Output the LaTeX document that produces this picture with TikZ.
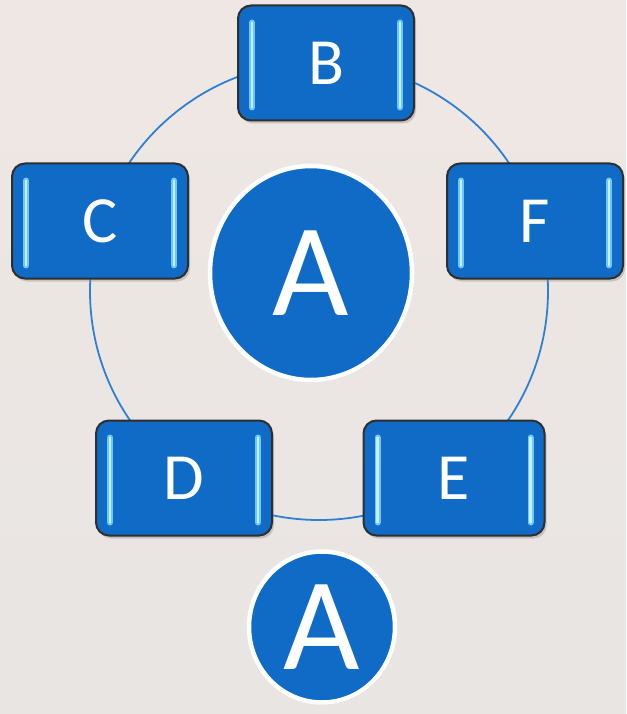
\documentclass[tikz,border=0pt]{standalone}
\usepackage{fontspec}
\setmainfont{Carlito}
\usetikzlibrary{shadows,shapes.geometric}
\definecolor{bgtop}{HTML}{EFE7E4}
\definecolor{bgbot}{HTML}{E8E5E2}
\definecolor{boxblue}{HTML}{0F6BC6}
\definecolor{ringblue}{HTML}{2F80D2}
\definecolor{hl}{HTML}{6CC8FA}
\definecolor{hlcore}{HTML}{C8F0FF}
\definecolor{edgegray}{HTML}{2E2E2E}
\tikzset{
  stripe/.style={line cap=round},
  stepbox/.style={rectangle, rounded corners=13pt, draw=edgegray, line width=2pt,
    fill=boxblue, minimum width=176pt, minimum height=115pt, text=white,
    font=\fontsize{66}{66}\selectfont, inner sep=0pt,
    drop shadow={shadow xshift=2pt, shadow yshift=-3pt, opacity=0.35},
    path picture={
      \foreach \w/\c in {6pt/hl, 2.2pt/hlcore}{
      \draw[stripe, \c, line width=\w]
        ([xshift=14pt,yshift=-17pt]path picture bounding box.north west) --
        ([xshift=14pt,yshift=13pt]path picture bounding box.south west);
      \draw[stripe, \c, line width=\w]
        ([xshift=-14pt,yshift=-17pt]path picture bounding box.north east) --
        ([xshift=-14pt,yshift=13pt]path picture bounding box.south east);
      }
    }},
  hub/.style={ellipse, draw=white, line width=4.5pt, fill=boxblue, text=white,
    inner sep=0pt, font=\fontsize{132}{132}\selectfont,
    drop shadow={shadow xshift=1.5pt, shadow yshift=-2pt, opacity=0.25}},
  ring/.style={draw=ringblue, line width=1.8pt}
}
\begin{document}
\begin{tikzpicture}[x=1pt,y=-1pt]
  \fill[top color=bgtop, bottom color=bgbot] (0,0) rectangle (626,714);
  \useasboundingbox (0,0) rectangle (626,714);
  \coordinate (ringc) at (319,291);
  \draw[ring] (ringc) circle[radius=229pt];
  \node[stepbox] (B) at (326,63) {B};
  \node[stepbox] (C) at (100,221) {C};
  \node[stepbox] (F) at (535,221) {F};
  \node[stepbox] (D) at (184,478) {D};
  \node[stepbox, minimum width=181pt] (E) at (454,478) {E};
  \node[hub, minimum width=202pt, minimum height=214pt] (A1) at (311,273) {A};
  \node[hub, minimum width=146pt, minimum height=151pt] (A2) at (322,627) {A};
\end{tikzpicture}
\end{document}
